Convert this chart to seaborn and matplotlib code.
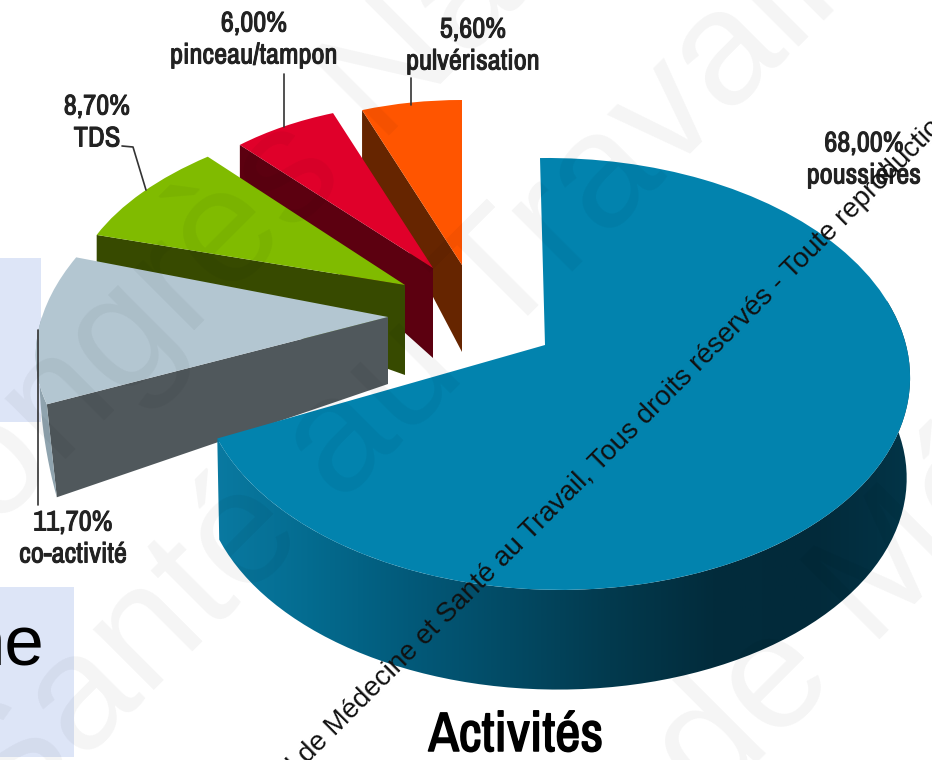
import numpy as np
import matplotlib
matplotlib.use("Agg")
import matplotlib.pyplot as plt
import matplotlib.patheffects as pe
import seaborn as sns
from matplotlib import font_manager
from matplotlib.patches import Polygon, Rectangle
from matplotlib.transforms import Transform

# Donnees du camembert
activites = ["poussières", "co-activité", "TDS", "pinceau/tampon", "pulvérisation"]
parts = [68.0, 11.7, 8.7, 6.0, 5.6]
parts_txt = ["68,00%", "11,70%", "8,70%", "6,00%", "5,60%"]
titre = "Activités"

couleurs = ["#0283ae", "#b3c6d1", "#80bb00", "#e0002a", "#ff5500"]
cotes = ["#0283ae", "#50585c", "#374a00", "#5c0010", "#662500"]
degrade = ["#0a7ba3", "#046c90", "#025a7a", "#024a64", "#023a4e", "#022c3c", "#022a3a", "#033548"]

# perspective de chaque part : cx, cy, rx, ry, p, q, cisaillement
vues = [
    (545, 345, 352, 212, 0.134, -0.025, -5),
    (388, 317, 346, 205, 0, 0, 66),
    (405, 285, 332, 172, 0, 0, 32),
    (433, 268, 290, 165, 0, 0, 0),
    (462, 265, 290, 165, 0, 0, 0),
]
# epaisseur cote centre / cote bord, et decalage en x du bord
epaisseurs = [None, (67, 93, 10), (90, 30, 0), (90, 40, 0), (87, 52, 0)]

sns.set_theme(style="white")
plt.rcParams["font.family"] = ["Liberation Sans", "DejaVu Sans"]

# police etroite si elle existe
noms = sorted({f.name for f in font_manager.fontManager.ttflist})
etroites = [n for n in noms if "Narrow" in n or "Condensed" in n]
NARROW = etroites[:1] + ["Liberation Sans", "DejaVu Sans"]


class Vue(Transform):
    input_dims = 2
    output_dims = 2

    def __init__(self, cx, cy, rx, ry, p, q, sh):
        super().__init__()
        self.v = (cx, cy, rx, ry, p, q, sh)

    def transform_non_affine(self, xy):
        cx, cy, rx, ry, p, q, sh = self.v
        xy = np.asarray(xy)
        c, s = xy[:, 0], xy[:, 1]
        d = 1 + p * s + q * c
        return np.column_stack([cx + rx * c / d + sh * s, cy - ry * s / d])


def rim(vue, t1, t2, n=80):
    t = np.radians(np.linspace(t1, t2, n))
    return Vue(*vue).transform_non_affine(np.column_stack([np.cos(t), np.sin(t)]))


fig, ax = plt.subplots(figsize=(9.32, 7.6), dpi=100)
fig.subplots_adjust(0, 0, 1, 1)

wedges, _ = ax.pie(parts, startangle=90, counterclock=False, radius=1)
ax.set_aspect("auto")

# fonds bleus de la diapo
ax.add_patch(Rectangle((0, 258), 41, 164, fc="#dde5f7", ec="none", zorder=0))
ax.add_patch(Rectangle((0, 587), 74, 170, fc="#dde5f7", ec="none", zorder=0))
ax.text(44, 666, "ne", fontsize=51, ha="right", va="baseline", color="black", zorder=1)

# on dessine du fond vers l'avant : pulverisation -> poussieres
for i in [4, 3, 2, 1, 0]:
    w = wedges[i]
    z = 10 + (4 - i) * 3
    w.set_transform(Vue(*vues[i]) + ax.transData)
    w.set_facecolor(couleurs[i])
    w.set_edgecolor("none")
    w.set_zorder(z + 2)
    if i == 0:
        # flanc avant avec degrade
        haut = rim(vues[0], 12, w.theta1)
        bas = rim((vues[0][0], vues[0][1] + 102, 349, 210, 0.134, -0.025, -3), 12, w.theta1)
        poly = Polygon(np.vstack([haut, bas[::-1]]), closed=True, fc="none", ec="none")
        ax.add_patch(poly)
        im = ax.imshow(np.linspace(0, 1, 256)[None, :], extent=(205, 915, 720, 300), aspect="auto",
                       cmap=sns.blend_palette(degrade, as_cmap=True), zorder=z)
        im.set_clip_path(poly)
    else:
        e_c, e_b, dx = epaisseurs[i]
        bord = w.theta2
        # flanc de l'arete gauche
        sommet = np.array([[vues[i][0], vues[i][1]]])
        arete = rim(vues[i], bord, bord, 1)
        pts = np.vstack([sommet, arete, arete + [dx, e_b], sommet + [0, e_c]])
        ax.add_patch(Polygon(pts, closed=True, fc=cotes[i], ec="none", zorder=z))
        if i == 1:
            # petit bout d'arrondi visible a gauche
            a = rim(vues[i], -180, bord, 20)
            f = np.linspace(0, 1, 20)[:, None]
            b = a + np.hstack([f * dx, f * e_b])
            ax.add_patch(Polygon(np.vstack([a, b[::-1]]), closed=True, fc="#8fa3ae", ec="none", zorder=z + 1))

# etiquettes (police etroite epaissie au trait)
gras = [pe.withStroke(linewidth=0.7, foreground="#222222")]
txt = dict(family=NARROW, fontsize=20.5, ha="center", va="center", color="#222222", zorder=40, path_effects=gras)
pos = [(864, 160), (73, 539), (97, 123), (254, 40), (473, 46)]
for k, (x, y) in enumerate(pos):
    ax.text(x, y - 16, parts_txt[k], **txt)
    ax.text(x, y + 16, activites[k], **txt)

ax.text(516, 736, titre, family=NARROW, fontsize=40, ha="center", va="center", color="black", zorder=40,
        path_effects=[pe.withStroke(linewidth=1.1, foreground="black")])

# traits de rappel
trait = dict(color="#333333", lw=1.2, zorder=39)
ax.plot([411, 411], [78, 105], **trait)
ax.plot([284, 284], [74, 127], **trait)
ax.plot([122, 133, 146], [146, 147, 190], **trait)
ax.plot([38, 38], [330, 505], **trait)

# filigrane
wm = dict(fontsize=118, rotation=45, rotation_mode="anchor", color="black", alpha=0.045, zorder=50, ha="left", va="center", clip_on=True)
ax.text(-120, 585, "Congrès National", **wm)
ax.text(-25, 810, "Santé au Travail", **wm)
ax.text(680, 780, "de Médecine", **wm)

ax.text(298, 774, "l de Médecine et Santé au Travail, Tous droits réservés - Toute reproduction",
        fontsize=20, rotation=45, rotation_mode="anchor", ha="left", va="baseline", color="#111111", zorder=60, clip_on=True)

ax.set_xlim(0, 932)
ax.set_ylim(760, 0)
ax.set_axis_off()
fig.savefig("out.png", dpi=100, facecolor="white")
